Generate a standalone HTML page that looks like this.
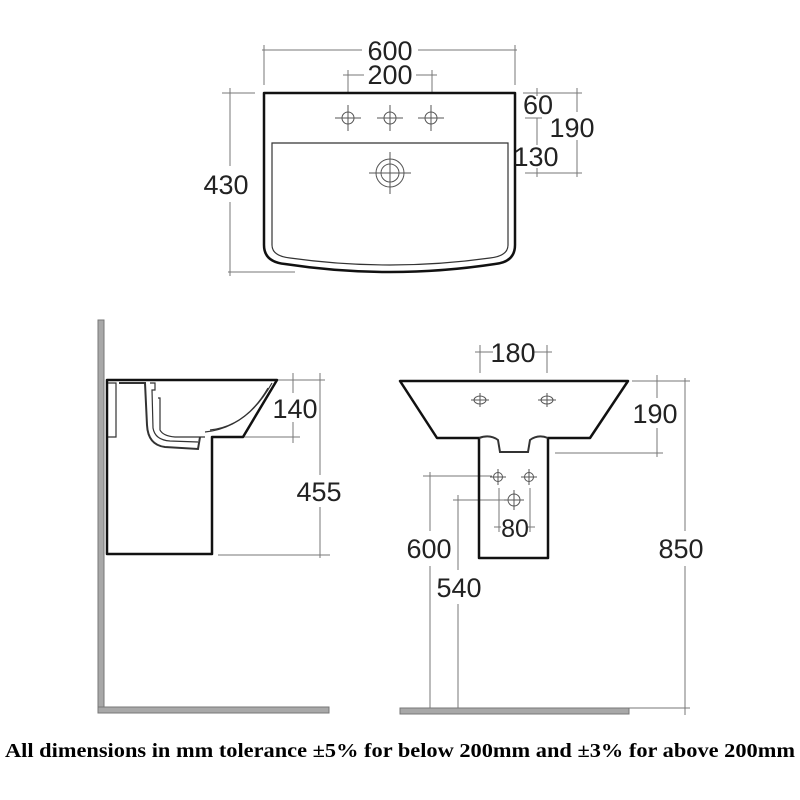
<!DOCTYPE html>
<html><head><meta charset="utf-8"><style>html,body{margin:0;padding:0;background:#fff;}svg{display:block}</style></head>
<body>
<svg width="800" height="800" viewBox="0 0 800 800" xmlns="http://www.w3.org/2000/svg">
<rect width="800" height="800" fill="#fff"/>
<g stroke="#777" stroke-width="1" fill="none">
 <line x1="262" y1="50" x2="362" y2="50"/><line x1="418" y1="50" x2="517" y2="50"/>
 <line x1="264" y1="45" x2="264" y2="85"/><line x1="515" y1="45" x2="515" y2="85"/>
 <line x1="343" y1="75" x2="364" y2="75"/><line x1="416" y1="75" x2="437" y2="75"/>
 <line x1="348" y1="70" x2="348" y2="93"/><line x1="432" y1="70" x2="432" y2="93"/>
 <line x1="230" y1="88" x2="230" y2="166"/><line x1="230" y1="202" x2="230" y2="276"/>
 <line x1="222" y1="93" x2="255" y2="93"/><line x1="228" y1="272" x2="295" y2="272"/>
 <line x1="537" y1="88" x2="537" y2="96"/><line x1="537" y1="118" x2="537" y2="145"/><line x1="537" y1="168" x2="537" y2="177"/>
 <line x1="577" y1="88" x2="577" y2="112"/><line x1="577" y1="140" x2="577" y2="177"/>
 <line x1="523" y1="93" x2="582" y2="93"/><line x1="525" y1="118" x2="542" y2="118"/><line x1="525" y1="173" x2="582" y2="173"/>
 <g stroke="#555">
 <circle cx="348" cy="118" r="6"/><line x1="335" y1="118" x2="361" y2="118"/><line x1="348" y1="105" x2="348" y2="131"/>
 <circle cx="390" cy="118" r="6"/><line x1="377" y1="118" x2="403" y2="118"/><line x1="390" y1="105" x2="390" y2="131"/>
 <circle cx="431" cy="118" r="6"/><line x1="418" y1="118" x2="444" y2="118"/><line x1="431" y1="105" x2="431" y2="131"/>
 <circle cx="390" cy="173" r="14"/><circle cx="390" cy="173" r="9"/><line x1="369" y1="173" x2="411" y2="173"/><line x1="390" y1="152" x2="390" y2="194"/>
 </g>
 <line x1="293" y1="373" x2="293" y2="393"/><line x1="293" y1="422" x2="293" y2="443"/>
 <line x1="270" y1="380" x2="325" y2="380"/><line x1="225" y1="437" x2="300" y2="437"/>
 <line x1="320" y1="373" x2="320" y2="475"/><line x1="320" y1="507" x2="320" y2="558"/>
 <line x1="218" y1="555" x2="330" y2="555"/>
 <line x1="475" y1="352" x2="493" y2="352"/><line x1="533" y1="352" x2="552" y2="352"/>
 <line x1="480" y1="345" x2="480" y2="373"/><line x1="547" y1="345" x2="547" y2="373"/>
 <line x1="657" y1="375" x2="657" y2="398"/><line x1="657" y1="428" x2="657" y2="457"/>
 <line x1="632" y1="381" x2="690" y2="381"/><line x1="555" y1="453" x2="663" y2="453"/>
 <line x1="685" y1="378" x2="685" y2="531"/><line x1="685" y1="566" x2="685" y2="715"/>
 <line x1="430" y1="472" x2="430" y2="531"/><line x1="430" y1="566" x2="430" y2="708"/>
 <line x1="423" y1="476" x2="492" y2="476"/>
 <line x1="458" y1="495" x2="458" y2="570"/><line x1="458" y1="604" x2="458" y2="708"/>
 <line x1="453" y1="500" x2="505" y2="500"/>
 <line x1="499" y1="488" x2="499" y2="532"/><line x1="530" y1="488" x2="530" y2="532"/>
 <line x1="494" y1="527" x2="501" y2="527"/><line x1="528" y1="527" x2="535" y2="527"/>
 <line x1="628" y1="708" x2="690" y2="708"/>
 <g stroke="#555">
 <ellipse cx="480" cy="400" rx="6" ry="4"/><line x1="471" y1="400" x2="489" y2="400"/><line x1="480" y1="393" x2="480" y2="407"/>
 <ellipse cx="547" cy="400" rx="6" ry="4"/><line x1="538" y1="400" x2="556" y2="400"/><line x1="547" y1="393" x2="547" y2="407"/>
 <circle cx="498" cy="477" r="4.5"/><line x1="490" y1="477" x2="506" y2="477"/><line x1="498" y1="469" x2="498" y2="485"/>
 <circle cx="529" cy="477" r="4.5"/><line x1="521" y1="477" x2="537" y2="477"/><line x1="529" y1="469" x2="529" y2="485"/>
 <circle cx="514" cy="500" r="6"/><line x1="504" y1="500" x2="524" y2="500"/><line x1="514" y1="490" x2="514" y2="510"/>
 </g>
</g>
<g fill="#a8a8a8" stroke="#777" stroke-width="1">
 <rect x="98" y="320" width="6" height="393"/>
 <rect x="98" y="707" width="231" height="6"/>
 <rect x="400" y="708" width="229" height="6"/>
</g>
<g fill="none" stroke="#111" stroke-width="2.5" stroke-linejoin="round">
 <path d="M264 93 L515 93 L515 245 Q515 262 495 264 Q390 280 285 264 Q264 262 264 245 Z"/>
 <path d="M400 381 L628 381 L590 438 L548 438 L548 558 L479 558 L479 438 L437 438 Z"/>
 <path d="M107 380 L277 380 L243 437 L212 437 L212 554 L107 554 Z"/>
</g>
<g fill="none" stroke="#333" stroke-width="1.2">
 <path d="M272 143 L508 143 L508 245 Q508 256 490 258 Q390 272 290 258 Q272 256 272 245 Z"/>
 <path d="M479 438 Q490 434 498 440 L500 452 L528 452 L530 440 Q538 434 548 438" stroke-width="2"/>
 <path d="M108 383 L116 383 L116 437 L108 437"/>
 <path d="M119 383 L145 383 L147 425 Q148 445 165 447 L198 449 L200 437" stroke-width="2"/>
 <path d="M150 383 L155 383 L155 390 L152 390 L153 428 Q155 440 170 441 L198 442"/>
 <path d="M158 398 L160 398 L160 430 Q163 436 175 437 L205 437"/>
 <path d="M205 432 Q245 428 268 388"/>
 <path d="M210 430 Q248 426 272 383"/>
</g>
<g font-family="Liberation Sans, sans-serif" font-size="27" fill="#222" text-anchor="middle">
 <text x="390" y="60">600</text>
 <text x="390" y="84">200</text>
 <text x="226" y="194">430</text>
 <text x="538" y="114">60</text>
 <text x="536" y="166">130</text>
 <text x="572" y="137">190</text>
 <text x="295" y="418">140</text>
 <text x="319" y="501">455</text>
 <text x="513" y="362">180</text>
 <text x="655" y="423">190</text>
 <text x="515" y="537" font-size="25">80</text>
 <text x="429" y="558">600</text>
 <text x="459" y="597">540</text>
 <text x="681" y="558">850</text>
</g>
<text x="5" y="757" font-family="Liberation Serif, serif" font-size="20" font-weight="bold" fill="#000" textLength="790" lengthAdjust="spacingAndGlyphs">All dimensions in mm tolerance ±5% for below 200mm and ±3% for above 200mm</text>
</svg>
</body></html>
